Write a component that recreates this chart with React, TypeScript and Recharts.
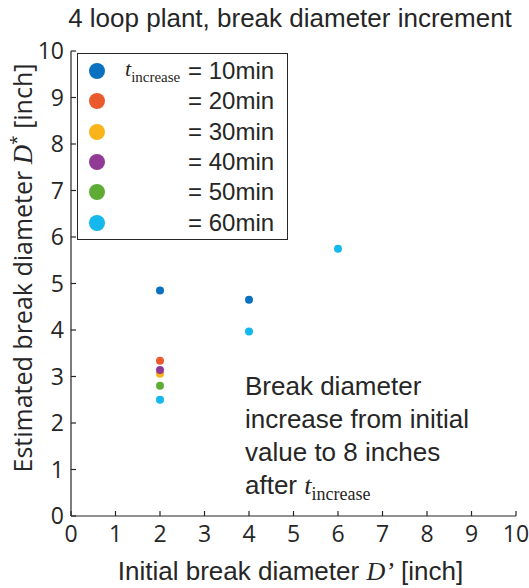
import React from 'react';
import { ScatterChart, Scatter, XAxis, YAxis, CartesianGrid, Legend, Label, Customized } from 'recharts';

const durations = ['10min', '20min', '30min', '40min', '50min', '60min'];
const colors = ['#0a70c0', '#ea5a2c', '#f9b41c', '#913a95', '#5eac36', '#14b8ec'];

const initialD10 = [2, 4];
const estimatedD10 = [4.85, 4.65];
const initialD20 = [2];
const estimatedD20 = [3.34];
const initialD30 = [2];
const estimatedD30 = [3.06];
const initialD40 = [2];
const estimatedD40 = [3.14];
const initialD50 = [2];
const estimatedD50 = [2.8];
const initialD60 = [2, 4, 6];
const estimatedD60 = [2.5, 3.97, 5.75];

const axisTicks = [0, 1, 2, 3, 4, 5, 6, 7, 8, 9, 10];

const pairs = (xs: number[], ys: number[]) => xs.map((x, i) => ({ x, y: ys[i] }));
const series = [
  pairs(initialD10, estimatedD10),
  pairs(initialD20, estimatedD20),
  pairs(initialD30, estimatedD30),
  pairs(initialD40, estimatedD40),
  pairs(initialD50, estimatedD50),
  pairs(initialD60, estimatedD60),
];

const FONT = '"Liberation Sans", Arial, sans-serif';
const TICKFONT = '"Open Sans", sans-serif';
const SERIF = '"Liberation Serif", "Times New Roman", serif';
const INK = '#262626';

const LegendBox = () => (
  <div style={{ width: 211, height: 187, border: `1.5px solid ${INK}`, background: '#fff', boxSizing: 'border-box', fontFamily: FONT, color: INK }}>
    {durations.map((d, i) => (
      <div key={d} style={{ position: 'absolute', top: 5 + i * 30.3, left: 12, height: 26, width: 195 }}>
        <span style={{ position: 'absolute', left: 0, top: 5, width: 16, height: 16, borderRadius: 8, background: colors[i] }} />
        {i === 0 && (
          <span style={{ position: 'absolute', left: 36, top: -2, fontFamily: SERIF, fontSize: 22, whiteSpace: 'nowrap' }}>
            <i>t</i>
            <span style={{ fontSize: 15, position: 'relative', top: 6 }}>increase</span>
          </span>
        )}
        <span style={{ position: 'absolute', left: 99, top: -1, fontSize: 24, whiteSpace: 'nowrap' }}>= {d}</span>
      </div>
    ))}
  </div>
);

const Annotation = () => (
  <text fontFamily={FONT} fontSize={26} fill={INK}>
    <tspan x={245} y={395}>Break diameter</tspan>
    <tspan x={245} y={428}>increase from initial</tspan>
    <tspan x={245} y={461}>value to 8 inches</tspan>
    <tspan x={245} y={494}>after </tspan>
    <tspan fontFamily={SERIF} fontStyle="italic">t</tspan>
    <tspan fontFamily={SERIF} fontSize={18} dy={6}>increase</tspan>
  </text>
);

const Title = () => (
  <text x={290} y={27} textAnchor="middle" fontFamily={FONT} fontSize={26} fill={INK}>
    4 loop plant, break diameter increment
  </text>
);

const YTitle = () => (
  <text transform="translate(32,268) rotate(-90)" textAnchor="middle" fontFamily={TICKFONT} fontSize={25} fill={INK}>
    <tspan>Estimated break diameter </tspan>
    <tspan fontFamily={SERIF} fontStyle="italic" fontSize={27}>D</tspan>
    <tspan fontSize={17} dy={-10}>*</tspan>
    <tspan dy={10}> [inch]</tspan>
  </text>
);

const noTick = () => <g />;

export default function App() {
  return (
    <div style={{ position: 'absolute', left: 0, top: 0, width: 529, height: 588, background: '#fff' }}>
      <ScatterChart width={529} height={588} margin={{ top: 51, right: 13, left: 0, bottom: 0 }}>
        <CartesianGrid stroke="#e4e4e4" strokeWidth={1} horizontalValues={axisTicks} verticalValues={axisTicks} />
        <XAxis xAxisId="b" type="number" dataKey="x" domain={[0, 10]} ticks={axisTicks} interval={0}
          height={72} stroke={INK} strokeWidth={1.2} tickSize={-5} tickMargin={15}
          tick={{ fontSize: 23, fontFamily: TICKFONT, fill: INK }}>
          <Label content={({ viewBox }: any) => (
            <text x={viewBox.x + viewBox.width / 2 - 3} y={580} textAnchor="middle" fontFamily={FONT} fontSize={26} fill={INK}>
              <tspan>Initial break diameter </tspan>
              <tspan fontFamily={SERIF} fontStyle="italic">D’</tspan>
              <tspan> [inch]</tspan>
            </text>
          )} />
        </XAxis>
        <XAxis xAxisId="t" orientation="top" type="number" dataKey="x" domain={[0, 10]} ticks={axisTicks} interval={0}
          height={0} stroke={INK} strokeWidth={1.2} tickSize={-5} tick={noTick} />
        <YAxis yAxisId="l" type="number" dataKey="y" domain={[0, 10]} ticks={axisTicks} interval={0}
          width={71} stroke={INK} strokeWidth={1.2} tickSize={-5} tickMargin={12}
          tick={{ fontSize: 23, fontFamily: TICKFONT, fill: INK }} />
        <YAxis yAxisId="r" orientation="right" type="number" dataKey="y" domain={[0, 10]} ticks={axisTicks} interval={0}
          width={0} stroke={INK} strokeWidth={1.2} tickSize={-5} tick={noTick} />
        {series.map((data, i) => (
          <Scatter key={durations[i]} name={durations[i]} data={data} xAxisId="b" yAxisId="l"
            fill={colors[i]} shape={(p: any) => <circle cx={p.cx} cy={p.cy} r={4} fill={colors[i]} />}
            isAnimationActive={false} />
        ))}
        <Legend layout="horizontal" verticalAlign="middle" content={() => <LegendBox />}
          wrapperStyle={{ position: 'absolute', left: 77, top: 53, width: 211, height: 187 }} />
        <Customized component={Title} />
        <Customized component={YTitle} />
        <Customized component={Annotation} />
      </ScatterChart>
    </div>
  );
}
